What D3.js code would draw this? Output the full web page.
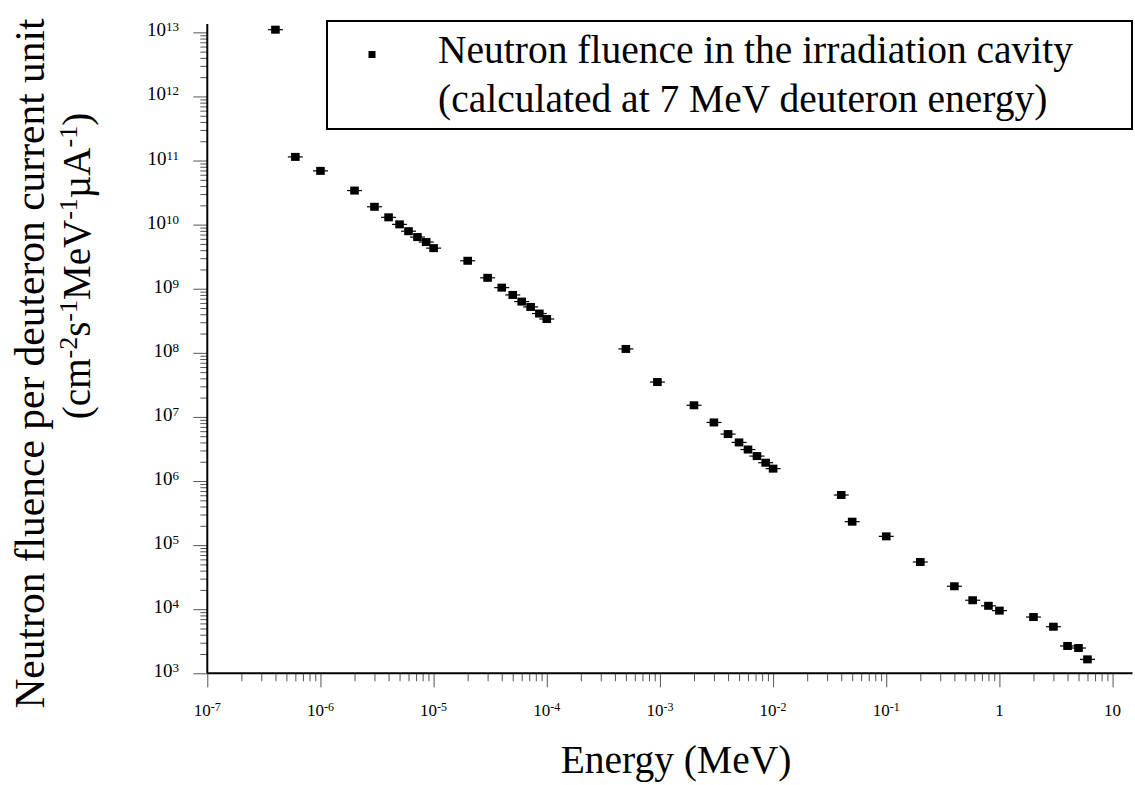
<!DOCTYPE html>
<html>
<head>
<meta charset="utf-8">
<script src="https://cdn.jsdelivr.net/npm/d3@7/dist/d3.min.js"></script>
<style>
  body { margin: 0; background: #fff; }
  text { font-family: "Liberation Serif", "Times New Roman", serif; fill: #000; }
</style>
</head>
<body>
<div id="chart"></div>
<script>
// energy in MeV, fluence in cm-2 s-1 MeV-1 uA-1
var energy = [4e-7, 6e-7, 1e-6, 2e-6, 3e-6, 4e-6, 5e-6, 6e-6, 7.2e-6, 8.6e-6, 1e-5,
  2e-5, 3e-5, 4e-5, 5e-5, 6e-5, 7.2e-5, 8.6e-5, 1e-4,
  5e-4, 9.5e-4, 2e-3, 3e-3, 4e-3, 5e-3, 6e-3, 7.2e-3, 8.6e-3, 1e-2,
  4e-2, 5e-2, 0.1, 0.2, 0.4, 0.58, 0.8, 1, 2, 3, 4, 5, 6];
var fluence = [1.1e13, 1.14e11, 6.9e10, 3.4e10, 1.9e10, 1.3e10, 1.01e10, 7.9e9, 6.4e9, 5.35e9, 4.3e9,
  2.73e9, 1.48e9, 1.04e9, 8e8, 6.3e8, 5.2e8, 4.1e8, 3.37e8,
  1.15e8, 3.5e7, 1.52e7, 8.2e6, 5.4e6, 4.0e6, 3.1e6, 2.45e6, 1.93e6, 1.56e6,
  6.05e5, 2.32e5, 1.37e5, 5.45e4, 2.28e4, 1.38e4, 1.13e4, 9.5e3, 7.55e3, 5.33e3, 2.67e3, 2.48e3, 1.65e3];

var xExponents = [-7, -6, -5, -4, -3, -2, -1, 0, 1];
var yExponents = [3, 4, 5, 6, 7, 8, 9, 10, 11, 12, 13];

var legendLines = ["Neutron fluence in the irradiation cavity", "(calculated at 7 MeV deuteron energy)"];
var xTitle = "Energy (MeV)";
var yTitle1 = "Neutron fluence per deuteron current unit";

var svg = d3.select('#chart')
    .append('svg')
    .attr('width', 1135)
    .attr('height', 785);

var x = d3.scaleLog().domain([1e-7, 15]).range([207.3, 1132.5]);
var y = d3.scaleLog().domain([1e3, 1.35e13]).range([673.3, 24]);

// minor tick values
function minors(exps, top) {
  var out = [];
  exps.forEach(function (e) {
    for (var k = 2; k <= 9; k++) {
      var v = k * Math.pow(10, e);
      if (v < top) out.push(v);
    }
  });
  return out;
}
var xMajor = xExponents.map(function (e) { return Math.pow(10, e); });
var yMajor = yExponents.map(function (e) { return Math.pow(10, e); });

// x axis
var gx = svg.append('g').attr('transform', 'translate(0,673.3)');
gx.append('g').call(d3.axisBottom(x).tickValues(minors(xExponents, 15)).tickSize(8).tickFormat(''));
gx.append('g').call(d3.axisBottom(x).tickValues(xMajor).tickSize(14).tickFormat(''));
gx.selectAll('.domain').remove();
gx.selectAll('line').attr('stroke', '#555').attr('stroke-width', 1);
gx.append('line').attr('x1', x(1e-7)).attr('x2', x(15)).attr('stroke', '#000').attr('stroke-width', 2);

// y axis
var gy = svg.append('g').attr('transform', 'translate(207.3,0)');
gy.append('g').call(d3.axisLeft(y).tickValues(minors(yExponents, 1.35e13)).tickSize(7).tickFormat(''));
gy.append('g').call(d3.axisLeft(y).tickValues(yMajor).tickSize(14).tickFormat(''));
gy.selectAll('.domain').remove();
gy.selectAll('line').attr('stroke', '#555').attr('stroke-width', 1);
gy.append('line').attr('y1', y(1e3)).attr('y2', y(1.35e13)).attr('stroke', '#000').attr('stroke-width', 2);

// x tick labels
var xl = svg.append('g').selectAll('text').data(xExponents).enter().append('text')
    .attr('x', function (d) { return x(Math.pow(10, d)); })
    .attr('y', 716)
    .attr('text-anchor', 'middle')
    .style('font-size', '17px');
xl.append('tspan').text(function (d) { return d === 0 ? '1' : '10'; });
xl.filter(function (d) { return d !== 0 && d !== 1; })
  .append('tspan').attr('dy', -5.5).style('font-size', '12px').text(function (d) { return d; });

// y tick labels
var yl = svg.append('g').selectAll('text').data(yExponents).enter().append('text')
    .attr('x', 179)
    .attr('y', function (d) { return y(Math.pow(10, d)) + 4; })
    .attr('text-anchor', 'end')
    .style('font-size', '19px');
yl.append('tspan').text('10');
yl.append('tspan').attr('dy', -5).style('font-size', '13px').text(function (d) { return d; });

// points with horizontal bars
var pts = energy.map(function (e, i) { return { e: e, f: fluence[i] }; });
var gp = svg.append('g');
gp.selectAll('line').data(pts).enter().append('line')
    .attr('x1', function (d) { return x(d.e) - 7.5; })
    .attr('x2', function (d) { return x(d.e) + 7.5; })
    .attr('y1', function (d) { return y(d.f); })
    .attr('y2', function (d) { return y(d.f); })
    .attr('stroke', '#000').attr('stroke-width', 1.2);
gp.selectAll('rect').data(pts).enter().append('rect')
    .attr('x', function (d) { return x(d.e) - 4.3; })
    .attr('y', function (d) { return y(d.f) - 4; })
    .attr('width', 8.6).attr('height', 8)
    .attr('fill', '#000');

// legend
var lg = svg.append('g');
lg.append('rect').attr('x', 327).attr('y', 21).attr('width', 805).attr('height', 108)
    .attr('fill', '#fff').attr('stroke', '#000').attr('stroke-width', 2);
lg.append('rect').attr('x', 368.5).attr('y', 51).attr('width', 7).attr('height', 7).attr('fill', '#000');
lg.selectAll('text.lt').data(legendLines).enter().append('text')
    .attr('class', 'lt')
    .attr('x', 438)
    .attr('y', function (d, i) { return 63 + i * 49; })
    .style('font-size', '39.5px')
    .text(function (d) { return d; });

// axis titles
svg.append('text').attr('x', 676).attr('y', 773).attr('text-anchor', 'middle')
    .style('font-size', '39.5px').text(xTitle);

svg.append('text')
    .attr('transform', 'translate(44,363.5) rotate(-90)')
    .attr('text-anchor', 'middle')
    .style('font-size', '41.5px')
    .text(yTitle1);

var t2 = svg.append('text')
    .attr('transform', 'translate(90,266) rotate(-90)')
    .attr('text-anchor', 'middle')
    .style('font-size', '39px');
t2.append('tspan').text('(cm');
t2.append('tspan').attr('dy', -13).style('font-size', '26px').text('-2');
t2.append('tspan').attr('dy', 13).text('s');
t2.append('tspan').attr('dy', -13).style('font-size', '26px').text('-1');
t2.append('tspan').attr('dy', 13).text('MeV');
t2.append('tspan').attr('dy', -13).style('font-size', '26px').text('-1');
t2.append('tspan').attr('dy', 13).text('\u00b5A');
t2.append('tspan').attr('dy', -13).style('font-size', '26px').text('-1');
t2.append('tspan').attr('dy', 13).text(')');
</script>
</body>
</html>
